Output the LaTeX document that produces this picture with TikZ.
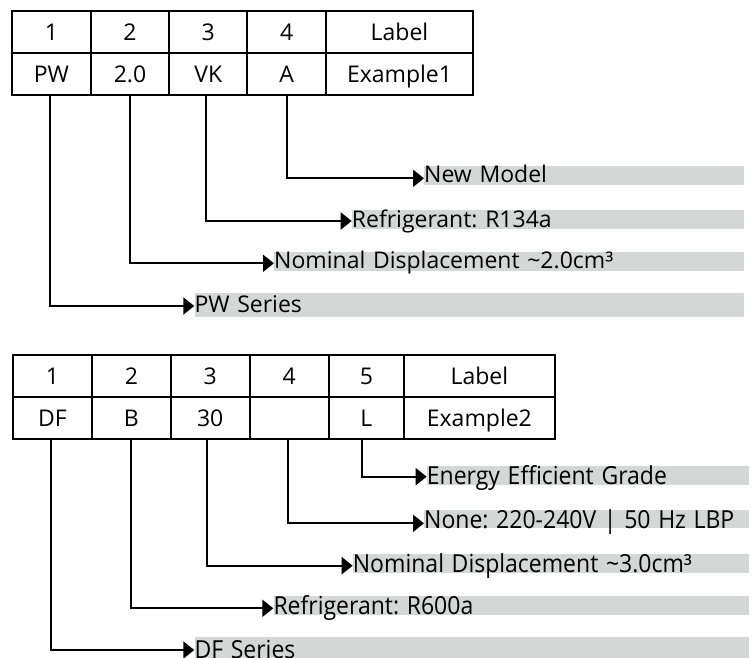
\documentclass[tikz,border=0pt]{standalone}
\usepackage{fontspec}
\usepackage{graphicx}
\setmainfont{Open Sans}
\frenchspacing
\usetikzlibrary{arrows.meta,calc}
\definecolor{bandgray}{RGB}{211,216,214}
\begin{document}
\begin{tikzpicture}[x=1pt,y=-1pt,
  cell/.style={draw, line width=2pt, inner sep=0pt, text height=16.4pt, text depth=0pt, font=\fontsize{23}{27}\selectfont},
  band/.style={fill=bandgray, inner sep=0pt, anchor=south west, align=left, font=\fontsize{23}{27}\selectfont},
  conn/.style={line width=2pt, -{Triangle[length=11pt,width=17pt]}}]
\useasboundingbox (0,0) rectangle (753,657);

% ---------- top table ----------
\node[cell, minimum width=78.7pt, minimum height=42.3pt] (a1) at (51.35,32.15) {1};
\node[cell, minimum width=78.6pt, minimum height=42.3pt] (a2) at (130,32.15) {2};
\node[cell, minimum width=78pt, minimum height=42.3pt] (a3) at (208.3,32.15) {3};
\node[cell, minimum width=78.7pt, minimum height=42.3pt] (a4) at (286.65,32.15) {4};
\node[cell, minimum width=147pt, minimum height=42.3pt] (a5) at (399.5,32.15) {Label};
\node[cell, minimum width=78.7pt, minimum height=41.7pt] (p1) at (51.35,74.15) {PW};
\node[cell, minimum width=78.6pt, minimum height=41.7pt] (p2) at (130,74.15) {2.0};
\node[cell, minimum width=78pt, minimum height=41.7pt] (p3) at (208.3,74.15) {VK};
\node[cell, minimum width=78.7pt, minimum height=41.7pt] (p4) at (286.65,74.15) {A};
\node[cell, minimum width=147pt, minimum height=41.7pt] (p5) at (399.5,74.15) {Example1};

% ---------- top labels ----------
\node[band, text width=320pt, text height=17pt, text depth=1.7pt] (l4) at (424,184.7) {New Model};
\node[band, text width=392.3pt, text height=17.3pt, text depth=1.7pt] (l3) at (351.7,229) {Refrigerant: R134a};
\node[band, text width=470pt, text height=17.3pt, text depth=1.7pt] (l2) at (274,270.7) {Nominal Displacement \textasciitilde 2.0cm³};
\node[band, text width=549.7pt, text height=19.4pt, text depth=4pt] (l1) at (194.3,316.7) {PW Series};

\coordinate (t4) at (424,178.3);
\coordinate (t3) at (351.7,221);
\coordinate (t2) at (274,263.3);
\coordinate (t1) at (194.3,306);

\draw[conn] (p4.south) |- (t4);
\draw[conn] ($(p3.south)+(-2.3,0)$) |- (t3);
\draw[conn] (p2.south) |- (t2);
\draw[conn] ($(p1.south)+(-1.35,0)$) |- (t1);

% ---------- bottom table ----------
\node[cell, minimum width=79.2pt, minimum height=42.3pt] (b1) at (52.5,376.15) {1};
\node[cell, minimum width=78.5pt, minimum height=42.3pt] (b2) at (131.35,376.15) {2};
\node[cell, minimum width=79.2pt, minimum height=42.3pt] (b3) at (210.2,376.15) {3};
\node[cell, minimum width=78.9pt, minimum height=42.3pt] (b4) at (289.25,376.15) {4};
\node[cell, minimum width=75.3pt, minimum height=42.3pt] (b5) at (366.35,376.15) {5};
\node[cell, minimum width=150.8pt, minimum height=42.3pt] (b6) at (479.4,376.15) {Label};
\node[cell, minimum width=79.2pt, minimum height=41.7pt] (d1) at (52.5,418.15) {DF};
\node[cell, minimum width=78.5pt, minimum height=41.7pt] (d2) at (131.35,418.15) {B};
\node[cell, minimum width=79.2pt, minimum height=41.7pt] (d3) at (210.2,418.15) {30};
\node[cell, minimum width=78.9pt, minimum height=41.7pt] (d4) at (289.25,418.15) {};
\node[cell, minimum width=75.3pt, minimum height=41.7pt] (d5) at (366.35,418.15) {L};
\node[cell, minimum width=150.8pt, minimum height=41.7pt] (d6) at (479.4,418.15) {Example2};

% ---------- bottom labels ----------
\node[band, text width=322.3pt, text height=19pt, text depth=0pt] (m5) at (426.7,485) {\scalebox{1}[1.08]{Energy Efficient Grade}};
\node[band, text width=325pt, text height=18.3pt, text depth=0pt] (m4) at (424,528.3) {\scalebox{1}[1.08]{None: 220-240V | 50 Hz LBP}};
\node[band, text width=396.3pt, text height=18.7pt, text depth=0pt] (m3) at (352.7,572.7) {\scalebox{1}[1.08]{Nominal Displacement \textasciitilde 3.0cm³}};
\node[band, text width=475.7pt, text height=19pt, text depth=0pt] (m2) at (273.3,615) {\scalebox{1}[1.08]{Refrigerant: R600a}};
\node[band, text width=554.7pt, text height=22.3pt, text depth=3pt] (m1) at (194.3,662) {\scalebox{1}[1.08]{DF Series}};

\coordinate (u5) at (426.7,476.7);
\coordinate (u4) at (424,523.3);
\coordinate (u3) at (352.7,565.7);
\coordinate (u2) at (273.3,608.3);
\coordinate (u1) at (194.3,650);

\draw[conn] ($(d5.south)+(-4.65,0)$) |- (u5);
\draw[conn] ($(d4.south)+(-1.5,0)$) |- (u4);
\draw[conn] ($(d3.south)+(-3.5,0)$) |- (u3);
\draw[conn] (d2.south) |- (u2);
\draw[conn] ($(d1.south)+(-1.8,0)$) |- (u1);
\end{tikzpicture}
\end{document}
